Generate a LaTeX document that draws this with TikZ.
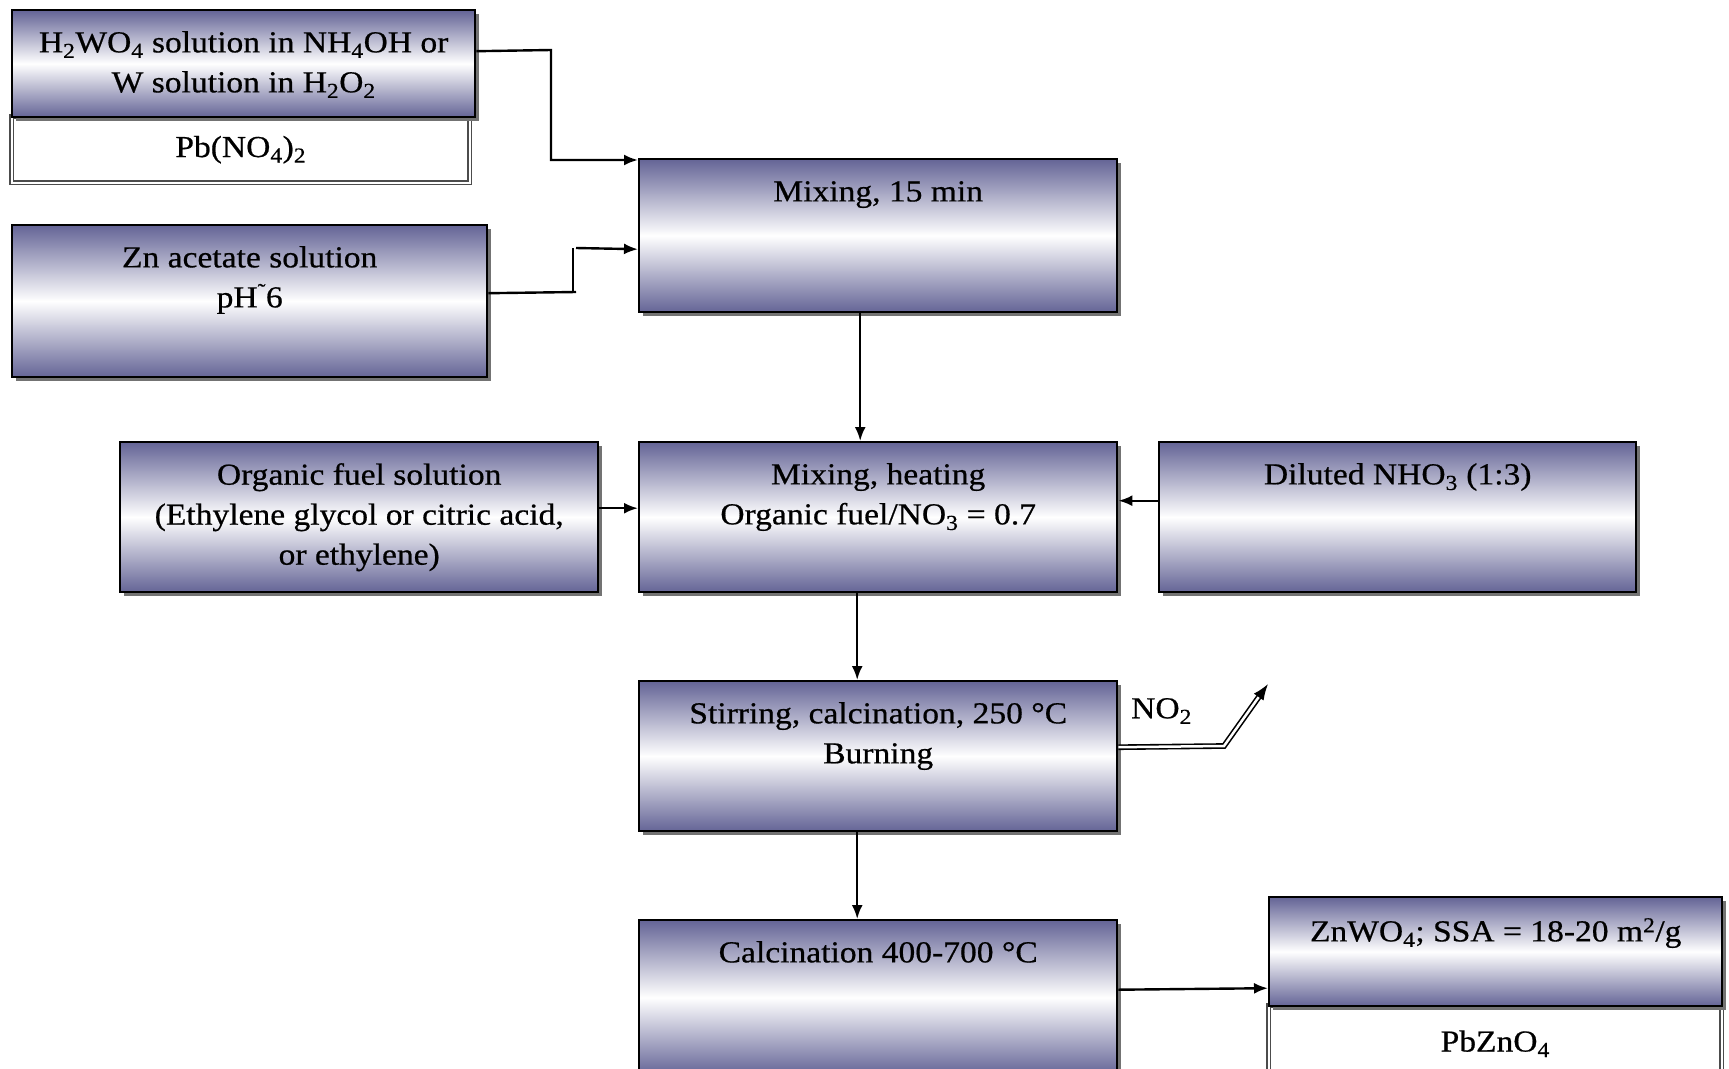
\documentclass[tikz,border=0pt]{standalone}
\usepackage{fontspec}
\setmainfont[FakeStretch=1.1,FakeBold=0.6]{Liberation Serif}
\usetikzlibrary{shadows,arrows.meta}
\definecolor{boxc}{RGB}{100,100,150}
\begin{document}
\begin{tikzpicture}[x=1pt,y=-1pt,
  box/.style={rectangle, draw=black, line width=2.4pt, top color=boxc, bottom color=boxc, middle color=white,
    drop shadow={shadow xshift=4pt, shadow yshift=-4pt, fill=black!55, opacity=1},
    anchor=north west, inner sep=0pt},
  wbox/.style={rectangle, draw=black!70, line width=1.4pt, double=white, double distance=2pt, fill=white,
    anchor=north west, inner sep=0pt},
  txt/.style={font=\fontsize{30.5}{40}\selectfont, align=center, inner sep=0pt},
  ln/.style={line width=2.4pt},
  arr/.style={line width=2.4pt, -{Latex[length=14pt,width=11pt]}}
]
\useasboundingbox[fill=white] (0,0) rectangle (1729,1068);

% boxes
\node[wbox, minimum width=458pt, minimum height=66pt] (A2) at (11,116) {};
\node[box, minimum width=463pt, minimum height=107pt] (A) at (11,9) {};
\node[box, minimum width=475pt, minimum height=152pt] (B) at (11,224) {};
\node[box, minimum width=478pt, minimum height=153pt] (C) at (638,158) {};
\node[box, minimum width=478pt, minimum height=150pt] (D) at (119,441) {};
\node[box, minimum width=478pt, minimum height=150pt] (E) at (638,441) {};
\node[box, minimum width=477pt, minimum height=150pt] (F) at (1158,441) {};
\node[box, minimum width=478pt, minimum height=150pt] (G) at (638,680) {};
\node[box, minimum width=478pt, minimum height=155pt] (H) at (638,919) {};
\node[wbox, minimum width=453pt, minimum height=70pt] (I2) at (1268,1005) {};
\node[box, minimum width=453pt, minimum height=109pt] (I) at (1268,896) {};

% texts
\node[txt, anchor=north] (At) at ([yshift=-22pt]A.north) {H\textsubscript{2}WO\textsubscript{4} solution in NH\textsubscript{4}OH or\\W solution in H\textsubscript{2}O\textsubscript{2}};
\node[txt] (A2t) at (A2.center) {Pb(NO\textsubscript{4})\textsubscript{2}};
\node[txt, anchor=north] (Bt) at ([yshift=-22pt]B.north) {Zn acetate solution\\pH\textsuperscript{\char"02DC}6};
\node[txt, anchor=north] (Ct) at ([yshift=-23pt]C.north) {Mixing, 15 min};
\node[txt, anchor=north] (Dt) at ([yshift=-22pt]D.north) {Organic fuel solution\\(Ethylene glycol or citric acid,\\or ethylene)};
\node[txt, anchor=north] (Et) at ([yshift=-22pt]E.north) {Mixing, heating\\Organic fuel/NO\textsubscript{3} = 0.7};
\node[txt, anchor=north] (Ft) at ([yshift=-22pt]F.north) {Diluted NHO\textsubscript{3} (1:3)};
\node[txt, anchor=north] (Gt) at ([yshift=-22pt]G.north) {Stirring, calcination, 250 °C\\Burning};
\node[txt, anchor=north] (Ht) at ([yshift=-22pt]H.north) {Calcination 400-700 °C};
\node[txt, anchor=north] (It) at ([yshift=-22pt]I.north) {ZnWO\textsubscript{4}; SSA = 18-20 m\textsuperscript{2}/g};
\node[txt] (I2t) at ([yshift=-3pt]I2.center) {PbZnO\textsubscript{4}};
\node[txt, anchor=west] (no2) at (1131,711) {NO\textsubscript{2}};

% connectors
\coordinate (ac) at (551,50);
\draw[arr] ([yshift=12.5pt]A.east) -- (ac) |- ([yshift=-2pt]C.north west);

\coordinate (b1) at (576,292);
\coordinate (b2) at (573,292);
\coordinate (b3) at (573,248);
\coordinate (b4) at (576,248);
\draw[ln] ([yshift=8pt]B.east) -- (b1);
\draw[ln] (b2) -- (b3);
\draw[arr] (b4) -- ([yshift=-13.5pt]C.west);

\draw[arr] ([xshift=-18pt]C.south) -- ([xshift=-18pt]E.north);
\draw[arr] ([yshift=9pt]D.east) -- ([yshift=9pt]E.west);
\draw[arr] ([yshift=16.5pt]F.west) -- ([yshift=16.5pt]E.east);
\draw[arr] ([xshift=-21pt]E.south) -- ([xshift=-21pt]G.north);
\draw[arr] ([xshift=-21pt]G.south) -- ([xshift=-21pt]H.north);
\draw[arr] ([yshift=8pt]H.east) -- ([yshift=-36.5pt]I.west);

\coordinate (n1) at (1224,746);
\coordinate (n2) at (1268,684);
\draw[line width=1.6pt, double=white, double distance=2.5pt, -{Latex[length=16pt,width=12pt]}] ([yshift=9pt]G.east) -- (n1) -- (n2);
\end{tikzpicture}
\end{document}
